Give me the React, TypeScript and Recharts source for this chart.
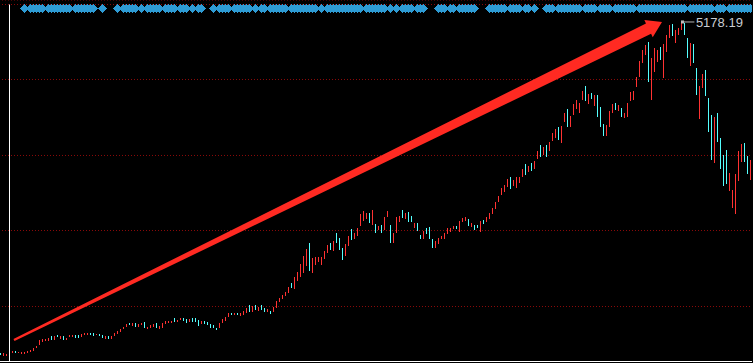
import React from "react";
import {
  ComposedChart,
  Bar,
  Scatter,
  XAxis,
  YAxis,
  CartesianGrid,
  ReferenceLine,
} from "recharts";

// daily candles (high / low / rising)
const highs = [
  2034, 2034, 2024, 2043, 2053, 2053, 2040, 2046, 2043, 2055,
  2065, 2084, 2103, 2157, 2166, 2166, 2176, 2195, 2195, 2204,
  2198, 2195, 2179, 2204, 2204, 2204, 2204, 2211, 2221, 2226,
  2226, 2221, 2214, 2214, 2204, 2198, 2195, 2198, 2221, 2242,
  2261, 2280, 2306, 2316, 2316, 2321, 2312, 2321, 2328, 2283,
  2302, 2309, 2316, 2293, 2321, 2337, 2335, 2337, 2363, 2347,
  2363, 2369, 2354, 2354, 2363, 2369, 2347, 2335, 2335, 2328,
  2309, 2299, 2274, 2316, 2354, 2378, 2411, 2416, 2416, 2416,
  2411, 2435, 2458, 2489, 2480, 2489, 2468, 2489, 2458, 2449,
  2435, 2468, 2530, 2553, 2584, 2613, 2660, 2698, 2755, 2803,
  2879, 2955, 3021, 3078, 2936, 2945, 2945, 2945, 3002, 3059,
  3078, 3097, 3173, 3126, 3031, 3069, 3145, 3211, 3173, 3221,
  3354, 3382, 3363, 3363, 3392, 3259, 3240, 3249, 3325, 3382,
  3249, 3173, 3325, 3335, 3392, 3363, 3373, 3335, 3268, 3268,
  3154, 3192, 3221, 3230, 3116, 3097, 3126, 3145, 3173, 3221,
  3221, 3240, 3240, 3287, 3316, 3325, 3306, 3268, 3249, 3249,
  3287, 3297, 3325, 3363, 3411, 3468, 3525, 3601, 3629, 3686,
  3705, 3677, 3705, 3705, 3781, 3829, 3810, 3838, 3857, 3952,
  4009, 3990, 4009, 4038, 4123, 4161, 4180, 4190, 4313, 4351,
  4285, 4399, 4437, 4408, 4522, 4570, 4494, 4503, 4484, 4484,
  4370, 4209, 4199, 4332, 4399, 4408, 4389, 4361, 4313, 4408,
  4513, 4522, 4655, 4807, 4912, 4959, 4988, 4836, 4931, 4912,
  4940, 4969, 5054, 5149, 5159, 5102, 5121, 5178.19, 5166, 5026,
  4978, 4969, 4741, 4570, 4684, 4722, 4456, 4294, 4275, 4313,
  4076, 3914, 3962, 3743, 3582, 3734, 3952, 4019, 4028, 3905, 3867,
];

const lows = [
  2014, 2005, 2005, 2014, 2034, 2034, 2027, 2031, 2027, 2036,
  2046, 2055, 2081, 2110, 2141, 2147, 2145, 2157, 2157, 2183,
  2166, 2157, 2164, 2183, 2188, 2179, 2179, 2183, 2204, 2211,
  2204, 2188, 2204, 2198, 2179, 2173, 2166, 2166, 2195, 2211,
  2230, 2259, 2280, 2293, 2283, 2283, 2283, 2299, 2271, 2261,
  2278, 2283, 2268, 2261, 2278, 2312, 2316, 2316, 2321, 2331,
  2340, 2337, 2316, 2325, 2321, 2331, 2293, 2306, 2306, 2299,
  2274, 2268, 2252, 2268, 2316, 2337, 2369, 2394, 2394, 2394,
  2385, 2394, 2411, 2420, 2426, 2442, 2426, 2442, 2420, 2416,
  2411, 2420, 2468, 2511, 2546, 2575, 2603, 2651, 2641, 2717,
  2755, 2793, 2860, 2812, 2793, 2869, 2898, 2869, 2926, 2983,
  3012, 3002, 3078, 3012, 2917, 2955, 3050, 3107, 3116, 3145,
  3240, 3287, 3306, 3268, 3249, 3173, 3202, 3173, 3202, 3325,
  3078, 3078, 3173, 3278, 3316, 3306, 3278, 3278, 3221, 3192,
  3116, 3116, 3164, 3116, 3031, 3031, 3069, 3116, 3116, 3164,
  3183, 3211, 3211, 3183, 3278, 3287, 3240, 3230, 3202, 3221,
  3183, 3259, 3278, 3306, 3354, 3401, 3468, 3534, 3563, 3610,
  3591, 3620, 3601, 3648, 3705, 3724, 3753, 3762, 3781, 3876,
  3895, 3914, 3895, 3952, 4047, 4076, 4057, 4028, 4228, 4180,
  4180, 4294, 4351, 4313, 4437, 4427, 4399, 4446, 4380, 4275,
  4180, 4095, 4095, 4180, 4313, 4342, 4332, 4275, 4266, 4275,
  4427, 4437, 4560, 4655, 4788, 4864, 4608, 4437, 4703, 4798,
  4817, 4646, 4893, 5026, 5045, 4978, 5054, 5102, 5054, 4836,
  4760, 4788, 4484, 4256, 4551, 4475, 4133, 3867, 3838, 4038,
  3781, 3620, 3639, 3572, 3411, 3354, 3667, 3848, 3848, 3734, 3677,
];

// 1 = red (up day), 0 = cyan (down day)
const ups = [
  0, 1, 1, 1, 1, 0, 1, 1, 1, 1,
  1, 1, 1, 1, 1, 1, 1, 0, 1, 0,
  1, 0, 1, 1, 1, 0, 0, 1, 1, 1,
  0, 0, 1, 0, 0, 1, 0, 1, 1, 1,
  1, 1, 1, 0, 1, 0, 1, 1, 0, 1,
  1, 1, 0, 1, 1, 1, 1, 1, 0, 1,
  1, 0, 0, 1, 0, 0, 0, 1, 0, 0,
  0, 0, 0, 1, 1, 1, 1, 0, 1, 0,
  1, 1, 1, 0, 1, 0, 1, 0, 0, 1,
  0, 1, 1, 1, 1, 1, 1, 0, 1, 1,
  1, 1, 1, 0, 1, 1, 1, 1, 1, 1,
  0, 1, 0, 0, 0, 1, 1, 0, 1, 1,
  1, 1, 1, 0, 1, 0, 1, 0, 1, 1,
  0, 1, 1, 1, 0, 1, 0, 0, 1, 0,
  0, 1, 0, 0, 0, 1, 1, 1, 1, 1,
  1, 1, 0, 1, 1, 1, 0, 1, 0, 0,
  1, 0, 1, 1, 1, 1, 1, 1, 1, 1,
  0, 1, 1, 1, 1, 0, 1, 0, 1, 1,
  0, 1, 0, 1, 1, 1, 0, 1, 1, 0,
  1, 1, 1, 1, 1, 0, 1, 0, 1, 0,
  0, 0, 1, 1, 1, 0, 1, 0, 1, 1,
  1, 1, 1, 1, 1, 1, 0, 1, 1, 1,
  0, 1, 1, 1, 0, 1, 1, 1, 0, 0,
  1, 0, 0, 1, 1, 0, 0, 0, 1, 0,
  0, 0, 0, 1, 1, 1, 1, 1, 0, 0, 1,
];

// candles without a signal diamond on the top row
const signalGaps = [
  0, 1, 2, 3, 4, 5, 6, 7, 9, 15, 24, 32, 33, 35, 36, 37, 38, 40, 46, 48,
  54, 59, 63, 65, 68, 69, 70, 72, 77, 84, 86, 89, 96, 106, 108, 121, 129,
  131, 133, 138, 142, 143, 144, 145, 149, 152, 159, 160, 161, 162, 169,
  174, 177, 179, 180, 181, 185, 194, 199, 204, 212, 229, 238, 242,
];

const gridLevels = [2475, 3197, 3910, 4632, 5344];
const priceDomain = [1952.75, 5387];
const signalLevel = 5306;
const peak = { i: 227, value: 5178.19 };
const arrowFrom = { i: 4.5, value: 2157 };
const arrowTo = { i: 220.5, value: 5178 };

const candles = highs.map((h, i) => ({ i, range: [lows[i], h], up: ups[i] }));
const signals = highs
  .map((_, i) => i)
  .filter((i) => !signalGaps.includes(i))
  .map((i) => ({ i, level: signalLevel }));

const UP = "#ff3232";
const DOWN = "#54ffff";

function Candle(props: any) {
  const { x, y, width, height, payload } = props;
  if (x == null || y == null || height == null) return null;
  const top = Math.round(Math.min(y, y + height));
  const h = Math.max(1, Math.round(Math.abs(height)));
  const left = Math.round(x + width / 2 - 0.5);
  return <rect x={left} y={top} width={1} height={h} fill={payload.up ? UP : DOWN} />;
}

function Diamond(props: any) {
  const { cx, cy } = props;
  if (cx == null || cy == null) return null;
  const w = 4.5;
  const h = 4.2;
  return (
    <polygon
      points={`${cx},${cy - h} ${cx + w},${cy} ${cx},${cy + h} ${cx - w},${cy}`}
      fill="#2e9bd4"
      shapeRendering="crispEdges"
    />
  );
}

function Arrow(props: any) {
  const { x1, y1, x2, y2 } = props;
  const dx = x2 - x1;
  const dy = y2 - y1;
  const len = Math.hypot(dx, dy);
  const ux = dx / len;
  const uy = dy / len;
  const nx = -uy;
  const ny = ux;
  const headLen = 15;
  const headHalf = 9.5;
  const neckHalf = 5.8;
  const tailHalf = 1.2;
  const bx = x2 - ux * headLen;
  const by = y2 - uy * headLen;
  const pts = [
    [x1 + nx * tailHalf, y1 + ny * tailHalf],
    [bx + nx * neckHalf, by + ny * neckHalf],
    [bx + nx * headHalf, by + ny * headHalf],
    [x2, y2],
    [bx - nx * headHalf, by - ny * headHalf],
    [bx - nx * neckHalf, by - ny * neckHalf],
    [x1 - nx * tailHalf, y1 - ny * tailHalf],
  ];
  return <polygon points={pts.map((p) => p.join(",")).join(" ")} fill="#ff2a22" />;
}

function PeakTag(props: any) {
  const { x1, y1, x2 } = props;
  return (
    <g>
      <rect x={x1 - 0.5} y={y1 - 1.5} width={3} height={3} fill="#c0c0c0" />
      <line x1={x1} y1={y1} x2={x2} y2={y1} stroke="#b4b4b4" strokeWidth={1} />
      <text
        x={x2 + 1.5}
        y={y1 + 4.8}
        fontSize={13}
        fontFamily="'Liberation Sans', Arial, sans-serif"
        fill="#c8ccd2"
      >
        {peak.value.toFixed(2)}
      </text>
    </g>
  );
}

export default function App() {
  return (
    <div
      style={{
        position: "absolute",
        left: 0,
        top: 0,
        width: 753,
        height: 363,
        background: "#000",
      }}
    >
      <ComposedChart
        width={753}
        height={363}
        data={candles}
        margin={{ top: 0, right: 1, bottom: 0, left: -1 }}
      >
        <CartesianGrid vertical={false} stroke="#8c0a0a" strokeDasharray="1 2" />
        <XAxis
          dataKey="i"
          type="number"
          domain={[-0.5, 250.5]}
          allowDataOverflow
          height={1.5}
          tick={false}
          tickLine={false}
          axisLine={{ stroke: "#ffffff" }}
        />
        <YAxis hide width={0} domain={priceDomain} ticks={gridLevels} allowDataOverflow />
        <ReferenceLine
          segment={[
            { x: 3, y: gridLevels[4] },
            { x: 3, y: priceDomain[0] },
          ]}
          stroke="#ffffff"
        />
        <Bar dataKey="range" barSize={1} shape={Candle} isAnimationActive={false} />
        <Scatter data={signals} dataKey="level" shape={Diamond} isAnimationActive={false} />
        <ReferenceLine
          segment={[
            { x: arrowFrom.i, y: arrowFrom.value },
            { x: arrowTo.i, y: arrowTo.value },
          ]}
          shape={Arrow}
        />
        <ReferenceLine
          segment={[
            { x: peak.i, y: peak.value },
            { x: peak.i + 4.3, y: peak.value },
          ]}
          shape={PeakTag}
        />
      </ComposedChart>
    </div>
  );
}
